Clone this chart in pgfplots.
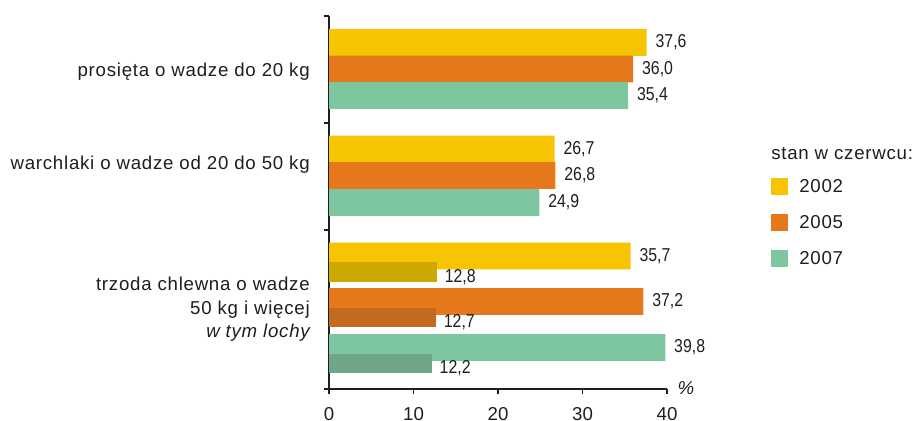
\documentclass[border=0pt]{standalone}
\usepackage{pgfplots}
\pgfplotsset{compat=1.18}
\usepackage{fontspec}
\setmainfont{Liberation Sans}
\newfontfamily\narrowfont[FakeStretch=0.85]{Liberation Sans}
\newfontfamily\labelfont[LetterSpace=4]{Liberation Sans}
\definecolor{cY}{RGB}{246,196,0}
\definecolor{cO}{RGB}{229,120,26}
\definecolor{cG}{RGB}{125,198,160}
\definecolor{dY}{RGB}{204,168,0}
\definecolor{dO}{RGB}{196,106,32}
\definecolor{dG}{RGB}{112,166,136}
\definecolor{ink}{RGB}{30,30,30}
\begin{document}
\begin{tikzpicture}
\useasboundingbox (0,0) rectangle (685.5pt,-315.75pt);
\begin{axis}[
  at={(246.75pt,-291.75pt)}, anchor=south west,
  scale only axis, width=253.5pt, height=279.75pt,
  xmin=0, xmax=40, ymin=32, ymax=405,
  axis x line*=bottom, axis y line*=left,
  axis line style={line width=1pt, ink},
  xtick={0,10,20,30,40}, ytick={32,191,298,405}, yticklabels={},
  tick align=outside, major tick length=4pt,
  tick style={line width=1pt, ink},
  xticklabel style={font=\fontsize{14}{16}\selectfont, text=ink, yshift=-6.5pt},
  /pgf/number format/assume math mode=true,
  xbar, bar shift=0pt, bar width=26.7,
  clip=false,
  nodes near coords={\pgfmathprintnumber[fixed,fixed zerofill,precision=1,use comma]{\pgfplotspointmeta}},
  nodes near coords style={font=\narrowfont\fontsize{14}{16}\selectfont, text=ink, inner sep=0pt, anchor=west, xshift=6.5pt},
  legend style={at={(1.3077,0.5657)}, anchor=north west, draw=none, fill=none, inner sep=0pt,
    font=\labelfont\fontsize{14}{16}\selectfont, text=ink, nodes={inner sep=0pt}, row sep=14.2pt,
    /tikz/every odd column/.append style={column sep=8.25pt}},
  legend cell align=left,
  sq/.style={legend image code/.code={\fill[##1,draw=none] (0pt,-6.4pt) rectangle (12.75pt,6.4pt);}},
]
\addplot[draw=none, fill=cY, sq] coordinates {(37.6,378.5) (26.7,272) (35.7,165)};
\addlegendentry{2002}
\addplot[draw=none, fill=cO, sq] coordinates {(36.0,352) (26.8,245.5) (37.2,119.5)};
\addlegendentry{2005}
\addplot[draw=none, fill=cG, sq] coordinates {(35.4,325.5) (24.9,218.5) (39.8,73.5)};
\addlegendentry{2007}
\addplot[draw=none, fill=dY, bar width=19.5, forget plot, nodes near coords style={xshift=-1pt, yshift=-3.75pt}] coordinates {(12.8,149)};
\addplot[draw=none, fill=dO, bar width=19.5, forget plot, nodes near coords style={xshift=-1pt, yshift=-3.75pt}] coordinates {(12.7,103.5)};
\addplot[draw=none, fill=dG, bar width=19.5, forget plot, nodes near coords style={xshift=-1pt, yshift=-3.75pt}] coordinates {(12.2,57.5)};
\end{axis}
\begin{scope}[every node/.style={font=\labelfont\fontsize{14}{16}\selectfont, text=ink, inner sep=0pt}]
\node[anchor=base east] at (232.5pt,-57.5pt) {prosięta o wadze do 20 kg};
\node[anchor=base east] at (232.5pt,-127.2pt) {warchlaki o wadze od 20 do 50 kg};
\node[anchor=base east] at (232.5pt,-218pt) {trzoda chlewna o wadze};
\node[anchor=base east] at (232.5pt,-236pt) {50 kg i więcej};
\node[anchor=base east] at (232.5pt,-253.2pt) {\itshape w tym lochy};
\node[anchor=base west] at (578.25pt,-119.7pt) {stan w czerwcu:};
\node[anchor=center] at (514.5pt,-291pt) {\itshape\%};
\end{scope}
\end{tikzpicture}
\end{document}
